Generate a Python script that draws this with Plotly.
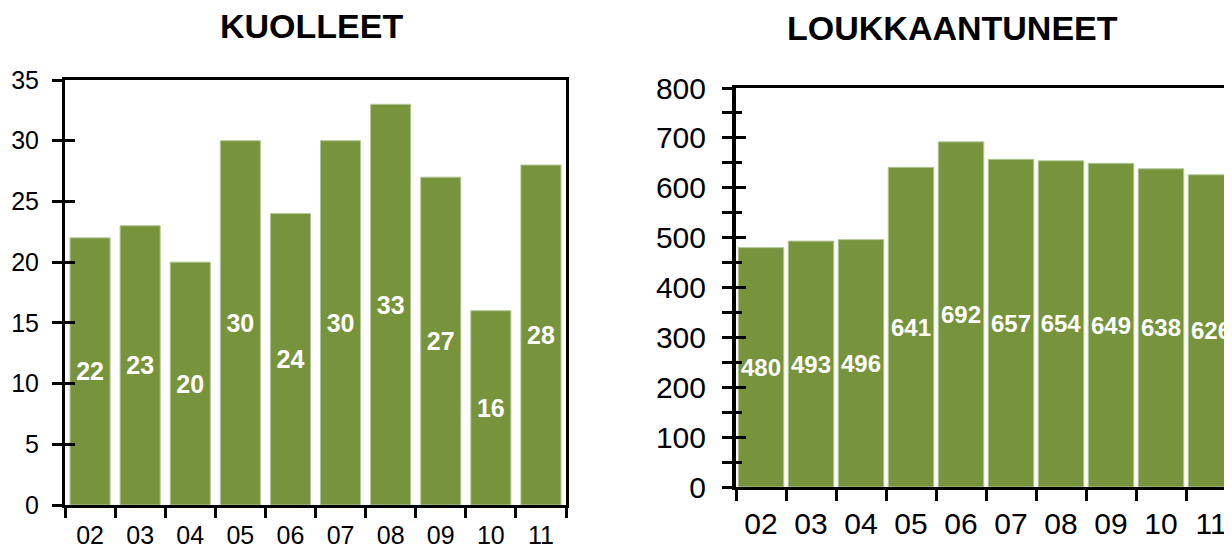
import plotly.graph_objects as go

years = ["02", "03", "04", "05", "06", "07", "08", "09", "10", "11"]
kuolleet = [22, 23, 20, 30, 24, 30, 33, 27, 16, 28]
loukkaantuneet = [480, 493, 496, 641, 692, 657, 654, 649, 638, 626]
titles = ["KUOLLEET", "LOUKKAANTUNEET"]

# page body has an 8px margin, so the figure is drawn from (8, 8)
OFF = 8
W, H = 1232 - OFF, 549 - OFF
GREEN = "#77933C"
EDGE = "#B3C796"
FONT = "Liberation Sans, Arial, sans-serif"

def px(x):
    return (x - OFF) / W

def py(y):
    return (H - (y - OFF)) / H

fig = go.Figure()

fig.add_trace(go.Bar(
    x=years, y=kuolleet, xaxis="x", yaxis="y",
    marker=dict(color=GREEN, line=dict(color=EDGE, width=1)),
    text=[str(v) for v in kuolleet], textposition="inside",
    insidetextanchor="middle", textangle=0, constraintext="none",
    textfont=dict(family=FONT, size=25, color="white", weight="bold"),
    showlegend=False, hoverinfo="skip",
))
fig.add_trace(go.Bar(
    x=years, y=loukkaantuneet, xaxis="x2", yaxis="y2", width=0.91,
    marker=dict(color=GREEN, line=dict(color=EDGE, width=1)),
    text=[str(v) for v in loukkaantuneet], textposition="inside",
    insidetextanchor="middle", textangle=0, constraintext="none",
    textfont=dict(family=FONT, size=24, color="white", weight="bold"),
    showlegend=False, hoverinfo="skip",
))
# invisible traces to carry the overlay axes (inner halves of the crossing ticks)
fig.add_trace(go.Scatter(x=years, y=[None] * len(years), xaxis="x", yaxis="y3",
                         showlegend=False, hoverinfo="skip"))
fig.add_trace(go.Scatter(x=years, y=[None] * len(years), xaxis="x2", yaxis="y4",
                         showlegend=False, hoverinfo="skip"))

common_axis = dict(showgrid=False, zeroline=False, linecolor="black",
                   tickcolor="black", automargin=False)

fig.update_layout(
    width=W, height=H,
    margin=dict(l=0, r=0, t=0, b=0),
    paper_bgcolor="white", plot_bgcolor="white",
    font=dict(family=FONT, color="black"),
    bargap=0.2,
    xaxis=dict(**common_axis, domain=[px(65), px(566)], anchor="y",
               type="category", range=[-0.5, 9.5],
               showline=True, linewidth=3, mirror=True,
               ticks="outside", tickson="boundaries", ticklen=10, tickwidth=3,
               tickfont=dict(size=25), ticklabelstandoff=6),
    yaxis=dict(**common_axis, domain=[py(505), py(80)], anchor="x",
               range=[0, 35], dtick=5,
               showline=True, linewidth=3, mirror=True,
               ticks="outside", ticklen=10, tickwidth=3,
               tickfont=dict(size=25), ticklabelstandoff=8),
    yaxis3=dict(**common_axis, overlaying="y", anchor="x", range=[0, 35], dtick=5,
                showline=False, ticks="inside", ticklen=10, tickwidth=3,
                showticklabels=False),
    xaxis2=dict(**common_axis, domain=[px(736), 1.0], anchor="y2",
                type="category", range=[-0.5, 9.42],
                showline=True, linewidth=3, mirror=True,
                ticks="outside", tickson="boundaries", ticklen=11, tickwidth=3,
                tickfont=dict(size=30), ticklabelstandoff=8),
    yaxis2=dict(**common_axis, domain=[py(487), py(88)], anchor="x2",
                range=[0, 800], dtick=100,
                showline=True, linewidth=4, mirror=False,
                ticks="outside", ticklen=10, tickwidth=3,
                minor=dict(dtick=50, ticks="outside", ticklen=10, tickwidth=3,
                           tickcolor="black"),
                tickfont=dict(size=30), ticklabelstandoff=10),
    yaxis4=dict(**common_axis, overlaying="y2", anchor="x2", range=[0, 800], dtick=100,
                showline=False, ticks="inside", ticklen=10, tickwidth=3,
                minor=dict(dtick=50, ticks="inside", ticklen=6, tickwidth=3,
                           tickcolor="black"),
                showticklabels=False),
)

fig.add_annotation(text=titles[0], x=px(311), y=py(26), xref="paper", yref="paper",
                   showarrow=False, xanchor="center", yanchor="middle", borderpad=0,
                   font=dict(family=FONT, size=34, color="black", weight="bold"))
fig.add_annotation(text=titles[1], x=px(952), y=py(28), xref="paper", yref="paper",
                   showarrow=False, xanchor="center", yanchor="middle", borderpad=0,
                   font=dict(family=FONT, size=34, color="black", weight="bold"))

fig.write_html("out.html")
